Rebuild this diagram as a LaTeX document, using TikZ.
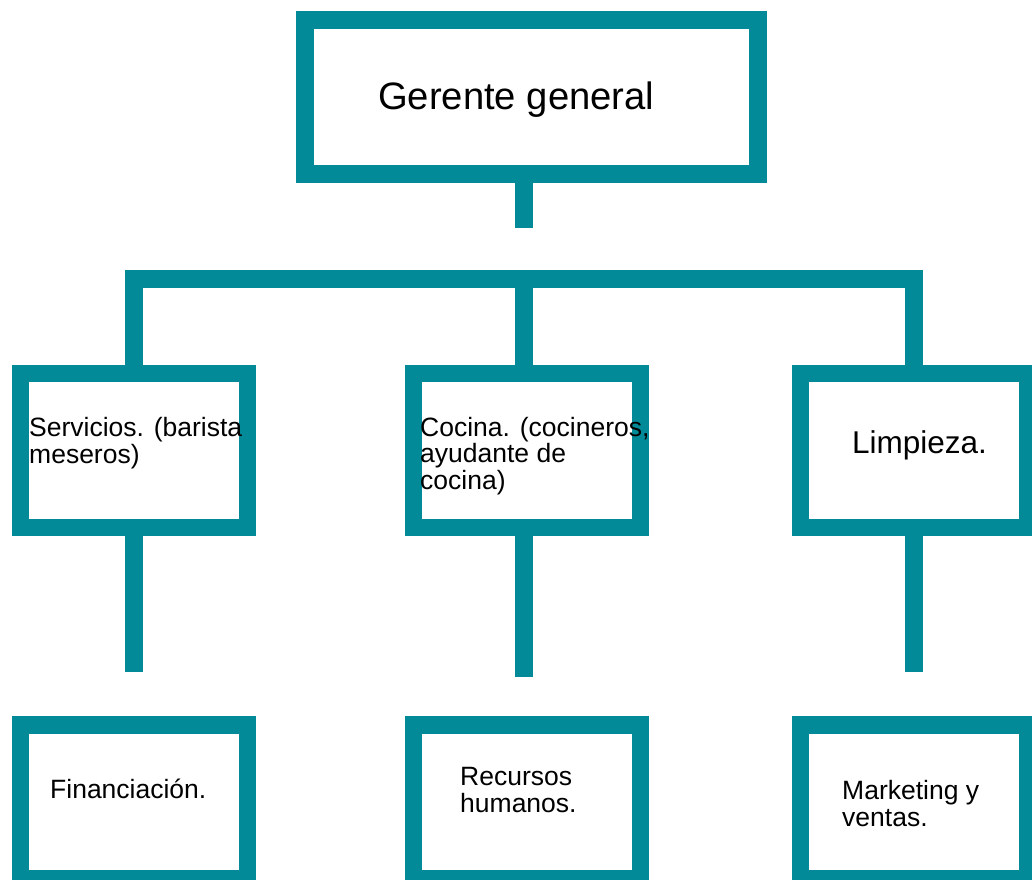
\documentclass[tikz,border=0pt]{standalone}
\usepackage{fontspec}
\setmainfont{Liberation Sans}
\definecolor{orgteal}{HTML}{028A99}

\begin{document}
\begin{tikzpicture}[x=1pt, y=-1pt,
    box/.style={draw=orgteal, line width=17.5pt, inner sep=0pt, outer sep=0pt,
      minimum width=227pt, minimum height=154pt},
    link/.style={draw=orgteal, line width=17.5pt},
    txt/.style={anchor=base west, inner sep=0pt, align=left,
      font=\fontsize{26.5}{26.5}\selectfont}]
      \useasboundingbox (0,0) rectangle (1032,879);

      % top box
      \node at (531.5,97) [box, minimum width=453pt, name=gerente] {};

      % second row
      \node at (134,450.5) [box, name=servicios] {};
      \node at (527,450.5) [box, name=cocina] {};
      \node at (914,450.5) [box, name=limpieza] {};

      % third row
      \node at (134,801.75) [box, name=finanzas] {};
      \node at (527,801.75) [box, name=rrhh] {};
      \node at (914,801.75) [box, name=marketing] {};

      % connectors
      \coordinate (topEnd) at (524,228);
      \coordinate (bar) at (524,279);
      \coordinate (servEnd) at (134,672);
      \coordinate (cocEnd) at (524,677);
      \coordinate (limpEnd) at (914,672);

      \draw [link] (gerente.south -| topEnd) -- (topEnd);
      \draw [link] (servicios.north) |- (bar) -| (limpieza.north);
      \draw [link] (bar) -- (cocina.north -| bar);
      \draw [link] (servicios.south) -- (servEnd);
      \draw [link] (cocina.south -| cocEnd) -- (cocEnd);
      \draw [link] (limpieza.south) -- (limpEnd);

      % texts (base = last line)
      \node at (378,109) [txt, font=\fontsize{38.2}{38.2}\selectfont, name=gerenteTxt]
      {Gerente general};
      \node at (29,463) [txt, name=serviciosTxt] {Servicios. (barista\\meseros)};
      \node at (420,489) [txt, name=cocinaTxt] {Cocina. (cocineros,\\ayudante de\\cocina)};
      \node at (852,453) [txt, font=\fontsize{31.5}{31.5}\selectfont, name=limpiezaTxt]
      {Limpieza.};
      \node at (50,798) [txt, name=finanzasTxt] {Financiación.};
      \node at (460,812) [txt, name=rrhhTxt] {Recursos\\humanos.};
      \node at (842,826) [txt, name=marketingTxt] {Marketing y\\ventas.};
\end{tikzpicture}
\end{document}
